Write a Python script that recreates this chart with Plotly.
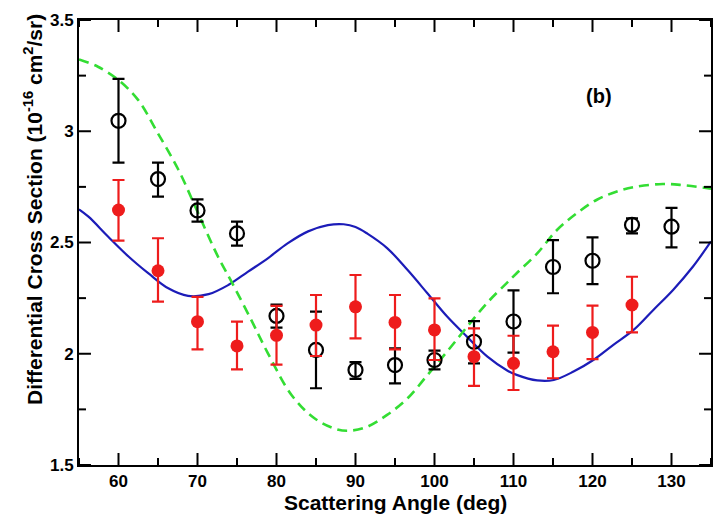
import plotly.graph_objects as go

# ---------------- data ----------------
angles = [60, 65, 70, 75, 80, 85, 90, 95, 100, 105, 110, 115, 120, 125, 130]

# open black circles (experiment A)
open_y  = [3.047, 2.785, 2.644, 2.541, 2.170, 2.017, 1.927, 1.949, 1.972, 2.054, 2.145, 2.390, 2.418, 2.579, 2.571]
open_hi = [3.235, 2.859, 2.694, 2.594, 2.221, 2.189, 1.962, 2.024, 2.014, 2.147, 2.285, 2.511, 2.523, 2.609, 2.656]
open_lo = [2.859, 2.706, 2.594, 2.486, 2.117, 1.845, 1.887, 1.867, 1.930, 1.957, 2.005, 2.272, 2.313, 2.541, 2.478]

# filled red circles (experiment B), angles 60..125
red_x  = [60, 65, 70, 75, 80, 85, 90, 95, 100, 105, 110, 115, 120, 125]
red_y  = [2.646, 2.373, 2.144, 2.035, 2.083, 2.129, 2.211, 2.141, 2.107, 1.987, 1.957, 2.009, 2.096, 2.219]
red_hi = [2.781, 2.519, 2.256, 2.144, 2.215, 2.264, 2.354, 2.264, 2.249, 2.114, 2.081, 2.126, 2.216, 2.346]
red_lo = [2.508, 2.234, 2.020, 1.930, 1.951, 1.990, 2.069, 2.020, 1.972, 1.856, 1.837, 1.890, 1.976, 2.096]

# solid blue theory curve
blue_x = [55.0, 56.2, 58.7, 61.3, 63.8, 66.3, 68.8, 71.4, 73.9, 76.4, 78.9, 81.4, 84.0, 86.5,
          88.5, 90.0, 91.5, 94.0, 96.6, 99.1, 101.6, 104.1, 106.7, 109.2, 110.4, 113.0, 115.1,
          117.6, 120.1, 122.6, 125.2, 127.7, 130.2, 132.7, 135.0]
blue_y = [2.649, 2.616, 2.526, 2.436, 2.361, 2.294, 2.260, 2.268, 2.309, 2.369, 2.429, 2.496, 2.550, 2.578,
          2.582, 2.570, 2.540, 2.475, 2.376, 2.272, 2.167, 2.077, 1.987, 1.925, 1.905, 1.880, 1.882,
          1.920, 1.972, 2.039, 2.107, 2.197, 2.287, 2.391, 2.505]

# dashed green theory curve
green_x = [55.0, 57.4, 60.0, 62.5, 65.0, 67.6, 70.1, 72.6, 74.3, 76.8, 78.9, 81.9, 84.8, 87.7,
           89.5, 91.5, 94.0, 96.6, 99.1, 101.6, 104.1, 106.7, 109.2, 110.4, 113.0, 115.5, 118.0,
           120.5, 123.0, 125.6, 128.9, 131.4, 135.0]
green_y = [3.323, 3.290, 3.230, 3.140, 2.990, 2.826, 2.630, 2.436, 2.324, 2.152, 2.003, 1.815, 1.710, 1.660,
           1.655, 1.672, 1.725, 1.800, 1.904, 2.010, 2.120, 2.230, 2.320, 2.362, 2.451, 2.556, 2.631,
           2.691, 2.728, 2.751, 2.763, 2.758, 2.742]

x_ticks = [60, 70, 80, 90, 100, 110, 120, 130]
x_minor = [55, 65, 75, 85, 95, 105, 115, 125, 135]
y_ticks = [1.5, 2.0, 2.5, 3.0, 3.5]
y_labels = ["1.5", "2", "2.5", "3", "3.5"]
y_minor = [1.75, 2.25, 2.75, 3.25]

# ---------------- styles ----------------
FONT = "Liberation Sans, Arial, Helvetica, sans-serif"
BLUE = "#1c1cb8"
RED = "#ee1c1c"
GREEN = "#33dd33"
BLACK = "#000000"

W, H = 713, 515
ML, MR, MT, MB = 79, 0, 20, 50
PW, PH = W - ML - MR, H - MT - MB
MAJ, MIN = 12, 7

fig = go.Figure()

fig.add_trace(go.Scatter(x=blue_x, y=blue_y, mode="lines", line=dict(color=BLUE, width=2.2),
                         line_shape="spline", showlegend=False, hoverinfo="skip"))
fig.add_trace(go.Scatter(x=green_x, y=green_y, mode="lines",
                         line=dict(color=GREEN, width=2.6, dash="10px,6px"),
                         line_shape="spline", showlegend=False, hoverinfo="skip"))

fig.add_trace(go.Scatter(
    x=angles, y=open_y, mode="markers",
    marker=dict(symbol="circle-open", size=14, color=BLACK, line=dict(width=2.2, color=BLACK)),
    error_y=dict(type="data", symmetric=False,
                 array=[h - v for h, v in zip(open_hi, open_y)],
                 arrayminus=[v - l for v, l in zip(open_y, open_lo)],
                 color=BLACK, thickness=2.2, width=6),
    showlegend=False))

fig.add_trace(go.Scatter(
    x=red_x, y=red_y, mode="markers",
    marker=dict(symbol="circle", size=13, color=RED),
    error_y=dict(type="data", symmetric=False,
                 array=[h - v for h, v in zip(red_hi, red_y)],
                 arrayminus=[v - l for v, l in zip(red_y, red_lo)],
                 color=RED, thickness=2.2, width=6),
    showlegend=False))

# inward tick marks on all four sides, built from the tick arrays
shapes = []
tick_line = dict(color=BLACK, width=2)
for vals, ln in ((x_ticks, MAJ), (x_minor, MIN)):
    f = ln / PH
    for t in vals:
        shapes.append(dict(type="line", xref="x", yref="paper", x0=t, x1=t, y0=0, y1=f, line=tick_line))
        shapes.append(dict(type="line", xref="x", yref="paper", x0=t, x1=t, y0=1, y1=1 - f, line=tick_line))
for vals, ln in ((y_ticks, MAJ), (y_minor, MIN)):
    f = ln / PW
    for t in vals:
        shapes.append(dict(type="line", xref="paper", yref="y", x0=0, x1=f, y0=t, y1=t, line=tick_line))
        shapes.append(dict(type="line", xref="paper", yref="y", x0=1, x1=1 - f, y0=t, y1=t, line=tick_line))

fig.update_layout(
    width=W, height=H,
    margin=dict(l=ML, r=MR, t=MT, b=MB),
    paper_bgcolor="white", plot_bgcolor="white",
    xaxis=dict(range=[55, 135], tickvals=x_ticks,
               showline=True, linecolor=BLACK, linewidth=2, mirror=True,
               ticks="", showgrid=False, zeroline=False,
               tickfont=dict(family=FONT, size=17, color=BLACK, weight="bold")),
    yaxis=dict(range=[1.5, 3.5], tickvals=y_ticks, ticktext=y_labels,
               showline=True, linecolor=BLACK, linewidth=2, mirror=True,
               ticks="", showgrid=False, zeroline=False,
               tickfont=dict(family=FONT, size=17, color=BLACK, weight="bold")),
    shapes=shapes,
    annotations=[
        dict(text="Scattering Angle (deg)", xref="paper", yref="paper", x=0.5, y=0, yshift=-37,
             showarrow=False, xanchor="center", yanchor="middle",
             font=dict(family=FONT, size=21, color=BLACK, weight="bold")),
        dict(text="Differential Cross Section (10<sup>-16</sup> cm<sup>2</sup>/sr)",
             xref="paper", yref="paper", x=0, xshift=-46, y=0.573, textangle=-90,
             showarrow=False, xanchor="center", yanchor="middle",
             font=dict(family=FONT, size=21, color=BLACK, weight="bold")),
        dict(text="(b)", xref="x", yref="y", x=120.8, y=3.158, showarrow=False,
             font=dict(family=FONT, size=20, color=BLACK, weight="bold")),
    ],
)

fig.write_html("out.html")
